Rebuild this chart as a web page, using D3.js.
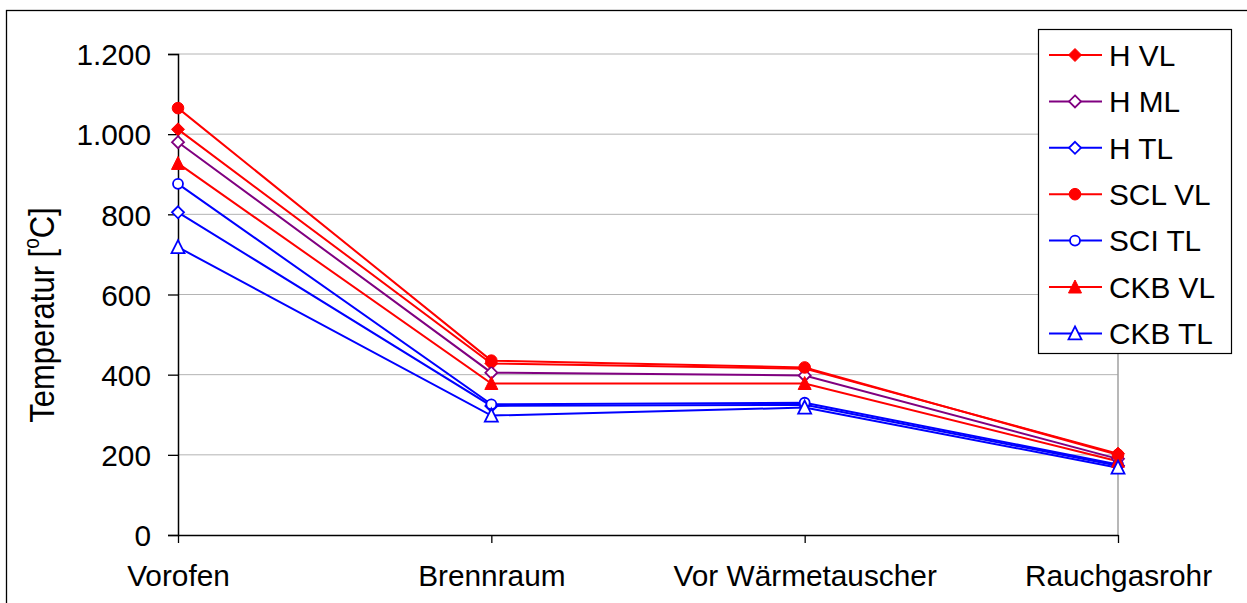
<!DOCTYPE html>
<html>
<head>
<meta charset="utf-8">
<script src="https://cdn.jsdelivr.net/npm/d3@7"></script>
<style>
  html, body { margin: 0; padding: 0; background: #fff; }
  svg { display: block; font-family: "Liberation Sans", Arial, sans-serif; }
</style>
</head>
<body>
<svg id="chart" width="1247" height="603"></svg>
<script>
// Measuring points along the flue-gas path
const categories = ["Vorofen", "Brennraum", "Vor Wärmetauscher", "Rauchgasrohr"];

// Temperatures in °C per series
const hVL   = [1012, 428, 415, 203];
const hML   = [980, 405, 398, 190];
const hTL   = [805, 322, 325, 173];
const sclVL = [1065, 435, 418, 200];
const sciTL = [876, 326, 330, 176];
const ckbVL = [927, 378, 378, 184];
const ckbTL = [718, 298, 318, 168];

const yTicks = [0, 200, 400, 600, 800, 1000, 1200];

const series = [
  { name: "H VL",   values: hVL,   color: "#ff0000", marker: "diamond",  filled: true  },
  { name: "H ML",   values: hML,   color: "#800080", marker: "diamond",  filled: false },
  { name: "H TL",   values: hTL,   color: "#0000ff", marker: "diamond",  filled: false },
  { name: "SCL VL", values: sclVL, color: "#ff0000", marker: "circle",   filled: true  },
  { name: "SCI TL", values: sciTL, color: "#0000ff", marker: "circle",   filled: false },
  { name: "CKB VL", values: ckbVL, color: "#ff0000", marker: "triangle", filled: true  },
  { name: "CKB TL", values: ckbTL, color: "#0000ff", marker: "triangle", filled: false }
];

const svg = d3.select("#chart");
const plotLeft = 178, plotRight = 1118, plotTop = 54, plotBottom = 535;
const fontSize = 29.8;

const de = d3.formatLocale({ decimal: ",", thousands: ".", grouping: [3], currency: ["", " €"] });
const fmt = de.format(",d");

const x = d3.scalePoint().domain(categories).range([plotLeft, plotRight]);
const y = d3.scaleLinear().domain([0, 1200]).range([plotBottom, plotTop]);

// Marker outline shapes, centered on the origin
function markerPath(type, big) {
  const p = d3.path();
  if (type === "diamond") {
    const r = big ? 6.5 : 6;
    p.moveTo(0, -r); p.lineTo(r, 0); p.lineTo(0, r); p.lineTo(-r, 0); p.closePath();
  } else if (type === "triangle") {
    const w = 6.5, h = 12;
    p.moveTo(0, -h / 2 - 1); p.lineTo(w, h / 2); p.lineTo(-w, h / 2); p.closePath();
  } else {
    const r = big ? 5.8 : 5;
    p.moveTo(r, 0); p.arc(0, 0, r, 0, 2 * Math.PI);
  }
  return p.toString();
}

// Outer chart frame
svg.append("rect")
  .attr("x", 6.5).attr("y", 10.5)
  .attr("width", 1260).attr("height", 620)
  .attr("fill", "none").attr("stroke", "#000").attr("stroke-width", 1.3);

// Horizontal gridlines
svg.append("g")
  .selectAll("line")
  .data(yTicks.filter(d => d > 0))
  .join("line")
  .attr("x1", plotLeft).attr("x2", plotRight)
  .attr("y1", d => y(d)).attr("y2", d => y(d))
  .attr("stroke", "#b4b4b4").attr("stroke-width", 1);

// Right edge of the plot area
svg.append("line")
  .attr("x1", plotRight).attr("x2", plotRight)
  .attr("y1", plotTop).attr("y2", plotBottom)
  .attr("stroke", "#a0a0a0").attr("stroke-width", 1.5);

// Y axis
const yAxis = svg.append("g")
  .attr("transform", `translate(${plotLeft},0)`)
  .call(d3.axisLeft(y).tickValues(yTicks).tickFormat(fmt).tickSize(10).tickPadding(17));
yAxis.select(".domain").attr("stroke", "#000").attr("stroke-width", 1.5);
yAxis.selectAll(".tick line").attr("stroke", "#000").attr("stroke-width", 1.3);
yAxis.selectAll(".tick text")
  .attr("font-size", fontSize).attr("font-family", "Liberation Sans, Arial, sans-serif")
  .attr("fill", "#000").attr("dy", "0.36em");

// X axis
const xAxis = svg.append("g")
  .attr("transform", `translate(0,${plotBottom})`)
  .call(d3.axisBottom(x).tickSize(8).tickSizeOuter(0).tickPadding(22));
xAxis.select(".domain").attr("stroke", "#000").attr("stroke-width", 1.5);
xAxis.selectAll(".tick line").attr("stroke", "#000").attr("stroke-width", 1.3);
xAxis.selectAll(".tick text")
  .attr("font-size", fontSize).attr("font-family", "Liberation Sans, Arial, sans-serif")
  .attr("fill", "#000");

// Y axis title (rendered slightly wider across its baseline)
const yTitle = svg.append("text")
  .attr("transform", "translate(54,315) scale(1.15,1) rotate(-90)")
  .attr("text-anchor", "middle")
  .attr("font-size", 31)
  .attr("fill", "#000");
yTitle.append("tspan").text("Temperatur [");
yTitle.append("tspan").attr("font-size", 19).attr("dy", -13).text("o");
yTitle.append("tspan").attr("dy", 13).text("C]");

// Series lines and markers
const line = d3.line().x((d, i) => x(categories[i])).y(d => y(d));
const plot = svg.append("g");
series.forEach(s => {
  plot.append("path")
    .datum(s.values)
    .attr("d", line)
    .attr("fill", "none")
    .attr("stroke", s.color)
    .attr("stroke-width", 2);
});
series.forEach(s => {
  plot.append("g")
    .selectAll("path")
    .data(s.values)
    .join("path")
    .attr("transform", (d, i) => `translate(${x(categories[i])},${y(d)})`)
    .attr("d", markerPath(s.marker, s.filled))
    .attr("fill", s.filled ? s.color : "#fff")
    .attr("stroke", s.color)
    .attr("stroke-width", s.filled ? 1 : 1.8);
});

// Legend
const lgX = 1038, lgY = 29, lgW = 193, lgH = 324, rowH = 46.4;
const legend = svg.append("g");
legend.append("rect")
  .attr("x", lgX + 0.5).attr("y", lgY + 0.5)
  .attr("width", lgW).attr("height", lgH)
  .attr("fill", "#fff").attr("stroke", "#000").attr("stroke-width", 1.2);
const rows = legend.selectAll("g.row")
  .data(series)
  .join("g")
  .attr("class", "row")
  .attr("transform", (d, i) => `translate(0,${lgY + 26 + i * rowH})`);
rows.append("line")
  .attr("x1", 1049).attr("x2", 1102)
  .attr("stroke", d => d.color).attr("stroke-width", 2);
rows.append("path")
  .attr("transform", "translate(1075,0)")
  .attr("d", d => markerPath(d.marker, d.filled))
  .attr("fill", d => d.filled ? d.color : "#fff")
  .attr("stroke", d => d.color)
  .attr("stroke-width", d => d.filled ? 1 : 1.8);
rows.append("text")
  .attr("x", 1109).attr("dy", "0.36em")
  .attr("font-size", fontSize)
  .attr("fill", "#000")
  .text(d => d.name);
</script>
</body>
</html>
